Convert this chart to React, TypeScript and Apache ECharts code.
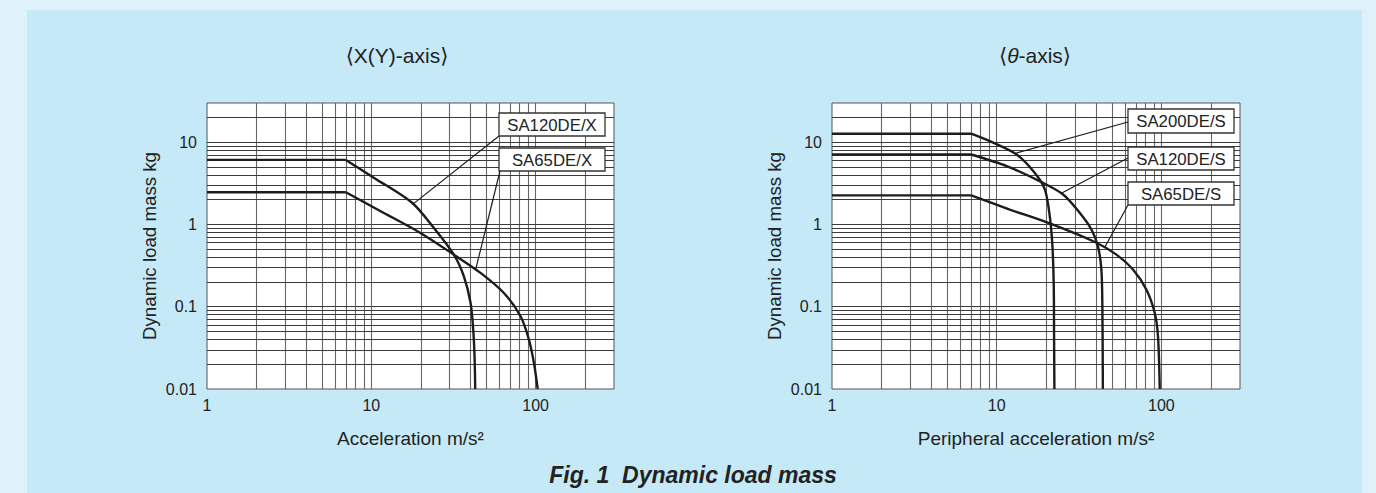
import React, { useEffect, useRef } from "react";
import * as echarts from "echarts";

// ---------- data ----------
const X_RANGE = [1, 300];
const Y_RANGE = [0.01, 30];
const DECADE_LABELS: Record<string, string> = { "-2": "0.01", "-1": "0.1", "0": "1", "1": "10", "2": "100" };
const X_GRID = [2, 3, 4, 5, 6, 7, 8, 9, 10, 20, 30, 40, 50, 60, 70, 80, 90, 100, 200];
const Y_GRID = [0.02, 0.03, 0.04, 0.05, 0.06, 0.07, 0.08, 0.09, 0.1, 0.2, 0.3, 0.4, 0.5, 0.6, 0.7, 0.8, 0.9, 1, 2, 3, 4, 5, 6, 7, 8, 9, 10, 20];

const SA120DE_X = [[1, 6.1], [7, 6.1], [10.35, 3.71], [17.7, 1.84], [24, 0.91], [31.8, 0.43], [36.6, 0.234], [40.2, 0.111], [41.7, 0.053], [42.5, 0.025], [42.9, 0.01]];
const SA65DE_X = [[1, 2.47], [7, 2.47], [11.4, 1.45], [19.9, 0.79], [31.8, 0.43], [46.2, 0.258], [64.1, 0.147], [81.1, 0.076], [91, 0.04], [97.7, 0.0207], [103, 0.01]];
const SA200DE_S = [[1, 12.7], [7, 12.7], [9.5, 9.9], [13.2, 7.1], [17, 4.26], [19.6, 2.67], [21, 1.26], [21.8, 0.54], [22.2, 0.177], [22.3, 0.044], [22.4, 0.01]];
const SA120DE_S = [[1, 7.1], [7, 7.1], [11.5, 5.13], [18.2, 3.37], [25.3, 2.32], [31.9, 1.39], [37.6, 0.87], [41.2, 0.54], [43.2, 0.283], [43.8, 0.101], [44.1, 0.01]];
const SA65DE_S = [[1, 2.26], [7, 2.26], [12, 1.52], [21, 1.03], [40.3, 0.6], [53.3, 0.43], [67.2, 0.283], [81.1, 0.161], [91.1, 0.084], [95.3, 0.044], [97.7, 0.01]];

const CURVES = [
  { name: "SA120DE/X", grid: 0, data: SA120DE_X },
  { name: "SA65DE/X", grid: 0, data: SA65DE_X },
  { name: "SA200DE/S", grid: 1, data: SA200DE_S },
  { name: "SA120DE/S", grid: 1, data: SA120DE_S },
  { name: "SA65DE/S", grid: 1, data: SA65DE_S },
];

// points on the curves where the leader lines start
const LABEL_ANCHORS = [
  { name: "SA120DE/X", grid: 0, at: [18, 1.78] },
  { name: "SA65DE/X", grid: 0, at: [43.1, 0.28] },
  { name: "SA200DE/S", grid: 1, at: [12.9, 7.3] },
  { name: "SA120DE/S", grid: 1, at: [24.7, 2.4] },
  { name: "SA65DE/S", grid: 1, at: [45.3, 0.53] },
];

const TITLES = ["{n|\u27E8X(Y)-axis\u27E9}", "{n|\u27E8}{i|\u03B8}{n|-axis\u27E9}"];
const X_NAMES = ["Acceleration m/s\u00B2", "Peripheral acceleration m/s\u00B2"];
const Y_NAME = "Dynamic load mass kg";
const CAPTION = "Fig. 1  Dynamic load mass";

// ---------- layout ----------
const FONT = '"Liberation Sans", Arial, Helvetica, "DejaVu Sans", sans-serif';
const TEXT = "#222";
const CURVE_STYLE = { color: "#1c1c1c", width: 2.4 };
const GRIDS = [
  { left: 207, top: 103, width: 407, height: 286 },
  { left: 832, top: 103, width: 408, height: 286 },
];
const TITLE_POS = [[397, 55], [1035, 55]];
const CAPTION_POS = [693, 475];
const BOXES: Record<string, { x: number; y: number; w: number; h: number; lx: number; ly: number }> = {
  "SA120DE/X": { x: 499, y: 113, w: 106, h: 23, lx: 499, ly: 136 },
  "SA65DE/X": { x: 499, y: 148, w: 106, h: 23, lx: 500, ly: 171 },
  "SA200DE/S": { x: 1128, y: 109, w: 106, h: 24, lx: 1128, ly: 122 },
  "SA120DE/S": { x: 1128, y: 147, w: 106, h: 23, lx: 1128, ly: 158 },
  "SA65DE/S": { x: 1128, y: 182, w: 106, h: 23, lx: 1128, ly: 205 },
};

function decadeLabel(v: number) {
  const e = Math.log10(v);
  const r = Math.round(e);
  if (Math.abs(e - r) < 1e-6 && DECADE_LABELS[String(r)] !== undefined) return DECADE_LABELS[String(r)];
  return "";
}

function makeX(gridIndex: number) {
  return {
    type: "log",
    logBase: 10,
    gridIndex,
    min: X_RANGE[0],
    max: X_RANGE[1],
    name: X_NAMES[gridIndex],
    nameLocation: "middle",
    nameGap: 40,
    nameTextStyle: { fontSize: 19, color: TEXT, fontFamily: FONT },
    axisLine: { show: false },
    axisTick: { show: false },
    splitLine: { show: false },
    axisLabel: { formatter: decadeLabel, fontSize: 16, color: TEXT, fontFamily: FONT, margin: 8, showMaxLabel: false },
  };
}
function makeY(gridIndex: number) {
  return {
    type: "log",
    logBase: 10,
    gridIndex,
    min: Y_RANGE[0],
    max: Y_RANGE[1],
    name: Y_NAME,
    nameLocation: "middle",
    nameGap: 48,
    nameTextStyle: { fontSize: 18.7, color: TEXT, fontFamily: FONT },
    axisLine: { show: false },
    axisTick: { show: false },
    splitLine: { show: false },
    axisLabel: { formatter: decadeLabel, fontSize: 16, color: TEXT, fontFamily: FONT, margin: 10, showMaxLabel: false },
  };
}

function gridLineSeries(gridIndex: number) {
  return {
    type: "line",
    xAxisIndex: gridIndex,
    yAxisIndex: gridIndex,
    data: [],
    z: 1,
    silent: true,
    markLine: {
      silent: true,
      symbol: ["none", "none"],
      label: { show: false },
      emphasis: { disabled: true },
      lineStyle: { type: "solid", width: 1, color: "#555" },
      data: [
        ...X_GRID.map((v) => ({ xAxis: v, lineStyle: { type: "solid", width: 1.1, color: "#666" } })),
        ...Y_GRID.map((v) => ({ yAxis: v, lineStyle: { type: "solid", width: 1, color: "#3c3c3c" } })),
      ],
    },
  };
}

export default function App() {
  const ref = useRef<HTMLDivElement>(null);
  useEffect(() => {
    document.body.style.margin = "0";
    const chart = echarts.init(ref.current!, null, { renderer: "svg" });
    const curveSeries: any[] = [];
    CURVES.forEach((c) => {
      // flat plateau up to the knee
      curveSeries.push({
        type: "line",
        name: c.name,
        xAxisIndex: c.grid,
        yAxisIndex: c.grid,
        data: c.data.slice(0, 2),
        symbol: "none",
        silent: true,
        z: 5,
        lineStyle: CURVE_STYLE,
      });
      // smooth fall-off from the knee
      curveSeries.push({
        type: "line",
        name: c.name,
        xAxisIndex: c.grid,
        yAxisIndex: c.grid,
        data: c.data.slice(1),
        symbol: "none",
        smooth: 0.3,
        silent: true,
        z: 5,
        lineStyle: CURVE_STYLE,
      });
    });
    chart.setOption({
      animation: false,
      backgroundColor: "transparent",
      grid: GRIDS.map((g) => ({ ...g, show: true, backgroundColor: "#ffffff", borderColor: "#555", borderWidth: 1, containLabel: false })),
      xAxis: [makeX(0), makeX(1)],
      yAxis: [makeY(0), makeY(1)],
      series: [gridLineSeries(0), gridLineSeries(1), ...curveSeries],
    });

    const graphic: any[] = [];
    TITLES.forEach((t, i) => {
      graphic.push({
        type: "text",
        x: TITLE_POS[i][0],
        y: TITLE_POS[i][1],
        z: 10,
        style: {
          text: t,
          align: "center",
          verticalAlign: "middle",
          rich: {
            n: { fontSize: 21, fontFamily: FONT, fill: TEXT, color: TEXT },
            i: { fontSize: 21, fontFamily: FONT, fontStyle: "italic", fill: TEXT, color: TEXT },
          },
        },
      });
    });
    graphic.push({
      type: "text",
      x: CAPTION_POS[0],
      y: CAPTION_POS[1],
      z: 10,
      style: {
        text: CAPTION,
        align: "center",
        verticalAlign: "middle",
        font: `italic bold 23px ${FONT}`,
        fill: TEXT,
      },
    });
    LABEL_ANCHORS.forEach((a) => {
      const p = chart.convertToPixel({ gridIndex: a.grid }, a.at) as number[];
      const b = BOXES[a.name];
      graphic.push({
        type: "line",
        z: 10,
        shape: { x1: p[0], y1: p[1], x2: b.lx, y2: b.ly },
        style: { stroke: "#1c1c1c", lineWidth: 1.2 },
      });
    });
    LABEL_ANCHORS.forEach((a) => {
      const b = BOXES[a.name];
      graphic.push({
        type: "rect",
        z: 11,
        shape: { x: b.x, y: b.y, width: b.w, height: b.h },
        style: { fill: "#ffffff", stroke: "#333", lineWidth: 1.3 },
      });
      graphic.push({
        type: "text",
        z: 12,
        x: b.x + b.w / 2,
        y: b.y + b.h / 2 + 0.5,
        style: { text: a.name, align: "center", verticalAlign: "middle", font: `16.8px ${FONT}`, fill: TEXT },
      });
    });
    chart.setOption({ graphic });
    return () => chart.dispose();
  }, []);

  return (
    <div style={{ position: "absolute", left: 0, top: 0, width: 1376, height: 493, background: "#dff1fa", overflow: "hidden" }}>
      <div style={{ position: "absolute", left: 27, top: 10, width: 1335, height: 483, background: "#c6e9f8" }} />
      <div ref={ref} style={{ position: "absolute", left: 0, top: 0, width: 1376, height: 493 }} />
    </div>
  );
}
